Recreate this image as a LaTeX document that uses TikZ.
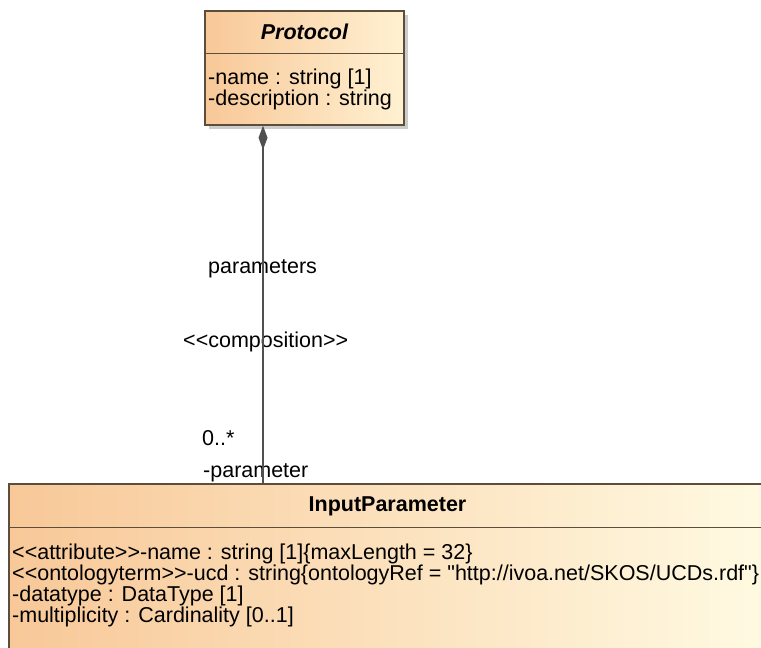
\documentclass[tikz,border=0pt]{standalone}
\usepackage{fontspec}
\newfontfamily\umlfont{Liberation Sans}
\newcommand\umltext{\umlfont\fontsize{21.5}{21}\selectfont}
\usetikzlibrary{shapes}
\usetikzlibrary{positioning}
\usetikzlibrary{arrows.meta}
\usetikzlibrary{shadows}
\definecolor{peach}{RGB}{248,200,152}
\definecolor{cream}{RGB}{255,250,226}
\definecolor{creamd}{RGB}{255,241,210}
\definecolor{umlborder}{RGB}{92,78,58}
\definecolor{linkgray}{RGB}{80,80,80}
\tikzset{
    classbox/.style = {rectangle, line width=1.5pt, draw=umlborder, left color=peach, drop shadow={shadow xshift=4pt, shadow yshift=-4pt, fill=gray!80, opacity=.5}},
    classsep/.style = {line width=1.5pt, umlborder},
    classname/.style = {anchor=base, inner sep=0pt, font=\umltext\bfseries},
    classattr/.style = {anchor=north west, inner sep=0pt, align=left, font=\umltext},
    edgelabel/.style = {anchor=base west, inner sep=0pt, font=\umltext},
    edgecomp/.style = {{Diamond[length=24pt,width=9pt]}-, line width=1.5pt, linkgray} % composition
}
\begin{document}
\begin{tikzpicture}[x=1pt, y=-1pt]
  \useasboundingbox (0,0) rectangle (761,648);
  % Protocol
  \node[classbox, right color=creamd, minimum width=199pt, minimum height=114pt] (prot) at (304.5,68) {};
  \draw[classsep] ([yshift=-43pt]prot.north west) -- ([yshift=-43pt]prot.north east);
  \node[classname, font=\umltext\bfseries\itshape] (protname) at (304.5,39) {Protocol};
  \node[classattr] (protattr) at (208,68.3) {-name : string [1]\\-description : string};
  % InputParameter
  \node[classbox, right color=cream, minimum width=757pt, minimum height=180pt] (ip) at (387.5,574) {};
  \draw[classsep] ([yshift=-44pt]ip.north west) -- ([yshift=-44pt]ip.north east);
  \node[classname] (ipname) at (387.5,511) {InputParameter};
  \node[classattr] (ipattr) at (12,543.3) {<<attribute>>-name : string [1]\{maxLength = 32\}\\
    <<ontologyterm>>-ucd : string\{ontologyRef = "http://ivoa.net/SKOS/UCDs.rdf"\}\\
    -datatype : DataType [1]\\
    -multiplicity : Cardinality [0..1]};
  % association
  \node[edgelabel] (rolename) at (208,273) {parameters};
  \node[edgelabel] (stereo) at (183,347) {<<composition>>};
  \node[edgelabel] (mult) at (202,445) {0..*};
  \node[edgelabel] (role) at (203,477) {-parameter};
  \coordinate (stem) at (263,0);
  \draw[edgecomp] (prot.south -| stem) -- (ip.north -| stem);
\end{tikzpicture}
\end{document}
